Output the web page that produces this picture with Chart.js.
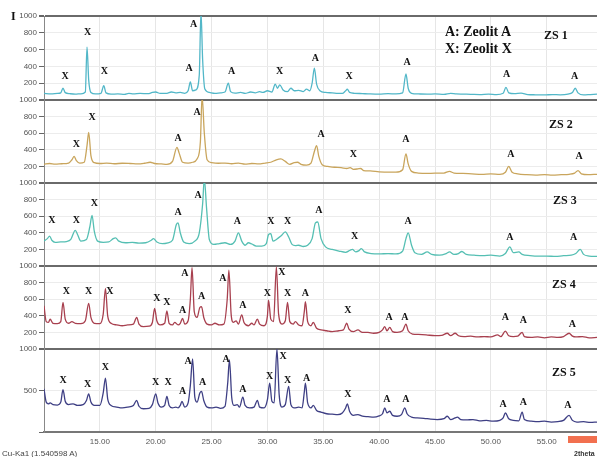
<!DOCTYPE html>
<html>
<head>
<meta charset="UTF-8">
<title>XRD ZS 1 - ZS 5</title>
<script src="https://cdn.jsdelivr.net/npm/chart.js@4.4.1/dist/chart.umd.min.js"></script>
<style>
html, body { margin:0; padding:0; background:#fff; overflow:hidden; }
#wrap { position:relative; width:597px; height:457px; }
#wrap canvas { position:absolute; left:0; top:0; }
.txt { position:absolute; white-space:nowrap; font-family:"Liberation Serif", serif; font-weight:bold; color:#111; }
.small { position:absolute; white-space:nowrap; font-family:"Liberation Sans", Arial, sans-serif; color:#444; font-size:8px; line-height:10px; }
</style>
</head>
<body>

<div id="wrap">
  <canvas id="p1" width="597" height="457"></canvas>
  <canvas id="p2" width="597" height="457"></canvas>
  <canvas id="p3" width="597" height="457"></canvas>
  <canvas id="p4" width="597" height="457"></canvas>
  <canvas id="p5" width="597" height="457"></canvas>

  <div class="txt" style="left:11px;top:9px;font-size:12px;line-height:14px;">I</div>
  <div class="txt" style="left:445px;top:23px;font-size:14px;line-height:17px;">A: Zeolit A</div>
  <div class="txt" style="left:445px;top:40px;font-size:14px;line-height:17px;">X: Zeolit X</div>
  <div class="txt" style="left:544px;top:28px;font-size:12px;line-height:14px;">ZS 1</div>
  <div class="txt" style="left:549px;top:117px;font-size:12px;line-height:14px;">ZS 2</div>
  <div class="txt" style="left:553px;top:193px;font-size:12px;line-height:14px;">ZS 3</div>
  <div class="txt" style="left:552px;top:277px;font-size:12px;line-height:14px;">ZS 4</div>
  <div class="txt" style="left:552px;top:365px;font-size:12px;line-height:14px;">ZS 5</div>
  <div class="small" style="left:2px;top:449px;">Cu-Ka1 (1.540598 A)</div>
  <div style="position:absolute;left:568px;top:436px;width:29px;height:7px;background:#f2704f;"></div>
  <div class="small" style="left:574px;top:449px;font-weight:bold;font-size:7px;color:#333;">2theta</div>
</div>

<script>
// panel geometry (plot rectangles, px)
var panelTops    = [16, 100, 183, 266, 349];
var panelBottoms = [100, 183, 266, 349, 432];

// x axis (2theta)
var thetaMin = 10, thetaMax = 59.5, thetaStep = 5;

// ZS 1 pattern [2theta, intensity]
var zs1 = [[10,80],[10.6,72],[11.2,78],[11.5,85],[11.7,140],[11.9,88],[12.3,75],[12.8,70],[13.3,74],[13.7,95],[13.85,630],[14.0,240],[14.2,90],[14.6,72],[15.1,80],[15.35,170],[15.55,85],[16,70],[16.6,72],[17.2,68],[17.6,80],[18.0,72],[18.6,78],[19.3,75],[19.7,90],[20.0,95],[20.4,78],[21,80],[21.4,95],[21.8,85],[22.2,90],[22.6,80],[22.9,110],[23.1,215],[23.3,110],[23.6,120],[23.9,300],[24.05,1050],[24.2,480],[24.4,130],[24.8,90],[25.3,80],[25.8,85],[26.2,95],[26.5,200],[26.7,100],[27.1,82],[27.6,90],[28.0,78],[28.5,95],[28.9,85],[29.3,100],[29.6,90],[30.0,110],[30.4,95],[30.7,190],[30.9,140],[31.1,180],[31.4,120],[31.8,100],[32.1,140],[32.4,110],[32.8,115],[33.2,100],[33.5,130],[33.8,110],[34.0,200],[34.2,380],[34.4,190],[34.7,110],[35.2,90],[35.8,85],[36.3,80],[36.7,78],[37.0,110],[37.15,130],[37.35,90],[37.8,80],[38.5,76],[39.2,72],[40,70],[40.8,75],[41.5,72],[42.1,85],[42.4,310],[42.6,140],[42.9,80],[43.5,72],[44.3,70],[45.0,72],[45.8,68],[46.4,80],[46.9,72],[47.5,70],[48.2,68],[49,65],[49.8,70],[50.5,65],[51.1,80],[51.35,150],[51.6,85],[52.1,75],[52.7,82],[53.3,65],[54,62],[54.8,60],[55.5,65],[56.2,62],[56.9,70],[57.3,90],[57.55,140],[57.8,85],[58.3,60],[58.9,65],[59.5,70]];

// ZS 2
var zs2 = [[10,225],[10.5,235],[11,228],[11.6,232],[12.2,240],[12.5,280],[12.7,320],[12.9,270],[13.2,240],[13.6,250],[13.85,450],[14.0,610],[14.2,330],[14.5,245],[15,235],[15.6,240],[16.3,232],[17,238],[17.7,235],[18.4,230],[19.0,238],[19.5,250],[19.9,235],[20.5,230],[21.0,225],[21.5,260],[21.9,430],[22.1,360],[22.4,250],[22.9,240],[23.3,250],[23.7,290],[24.0,500],[24.15,1050],[24.35,600],[24.6,280],[25.0,245],[25.6,238],[26.2,240],[26.8,232],[27.4,240],[28,228],[28.6,235],[29.2,230],[29.8,240],[30.3,250],[30.8,280],[31.2,290],[31.6,260],[32.0,225],[32.4,245],[32.7,250],[33.0,225],[33.5,215],[33.9,240],[34.2,380],[34.4,450],[34.6,320],[34.9,220],[35.4,200],[36,190],[36.6,185],[37.1,175],[37.4,185],[37.7,165],[38.1,170],[38.35,175],[38.6,150],[39.2,145],[40,135],[40.8,130],[41.5,130],[42.1,160],[42.4,350],[42.6,230],[42.9,140],[43.5,120],[44.2,115],[45,118],[45.8,120],[46.3,140],[46.7,120],[47.5,115],[48.3,110],[49.2,105],[50,110],[50.8,105],[51.3,130],[51.6,200],[51.9,130],[52.4,110],[53.2,100],[54,95],[54.8,100],[55.5,95],[56.3,100],[57.0,105],[57.5,120],[57.8,150],[58.1,110],[58.7,100],[59.5,105]];

// ZS 3
var zs3 = [[10,300],[10.3,330],[10.5,360],[10.7,310],[11.0,285],[11.5,290],[12.0,295],[12.4,320],[12.8,430],[13.0,380],[13.3,300],[13.8,320],[14.1,470],[14.3,610],[14.5,420],[14.8,300],[15.3,285],[15.8,290],[16.2,330],[16.4,340],[16.7,300],[17.3,280],[17.9,285],[18.5,275],[19.1,280],[19.6,310],[19.8,330],[20.1,290],[20.6,270],[21.1,280],[21.5,310],[21.85,500],[22.0,520],[22.2,400],[22.5,290],[23.0,270],[23.5,300],[23.9,400],[24.2,750],[24.35,1050],[24.55,700],[24.8,320],[25.2,260],[25.7,270],[26.2,280],[26.7,260],[27.1,300],[27.4,400],[27.7,300],[28.0,250],[28.3,280],[28.6,265],[29.0,240],[29.5,240],[29.9,270],[30.1,380],[30.3,390],[30.5,300],[30.8,320],[31.2,360],[31.6,410],[31.9,350],[32.2,260],[32.5,245],[32.8,250],[33.2,235],[33.6,250],[34.0,330],[34.3,520],[34.5,530],[34.8,330],[35.2,230],[35.8,200],[36.4,180],[37.0,165],[37.4,190],[37.6,200],[37.9,170],[38.2,185],[38.4,210],[38.7,170],[39.3,150],[40,145],[40.8,150],[41.5,145],[42.1,180],[42.4,330],[42.6,400],[42.9,250],[43.2,160],[43.8,140],[44.3,170],[44.7,140],[45.4,130],[46.0,150],[46.3,170],[46.7,140],[47.1,150],[47.4,175],[47.8,140],[48.5,130],[49.3,125],[50,130],[50.8,120],[51.3,150],[51.7,230],[52.0,160],[52.5,170],[52.8,140],[53.5,125],[54.3,118],[55,120],[55.8,115],[56.5,125],[57.2,130],[57.6,150],[58.0,200],[58.3,140],[58.8,120],[59.5,115]];

// ZS 4
var zs4 = [[10,520],[10.2,330],[10.4,320],[10.55,360],[10.8,310],[11.2,305],[11.5,330],[11.7,560],[11.9,360],[12.2,310],[12.5,330],[12.8,310],[13.3,305],[13.7,340],[14.0,550],[14.2,380],[14.5,310],[15.0,305],[15.3,420],[15.5,730],[15.7,400],[16.0,310],[16.5,290],[17.0,280],[17.5,290],[18.0,300],[18.3,380],[18.5,300],[18.9,270],[19.4,275],[19.7,320],[19.9,490],[20.1,340],[20.4,290],[20.8,310],[21.0,460],[21.2,310],[21.5,290],[21.7,320],[22.0,290],[22.2,310],[22.4,370],[22.6,300],[22.9,340],[23.1,600],[23.25,980],[23.45,450],[23.7,380],[23.95,500],[24.1,510],[24.3,380],[24.6,300],[25.0,290],[25.3,310],[25.7,290],[26.1,300],[26.4,600],[26.55,950],[26.75,420],[26.95,320],[27.2,340],[27.4,300],[27.7,410],[27.9,320],[28.3,280],[28.6,310],[28.8,290],[29.1,360],[29.3,300],[29.7,280],[30.0,400],[30.1,590],[30.3,360],[30.55,330],[30.8,990],[31.0,420],[31.3,300],[31.6,340],[31.8,560],[32.0,330],[32.3,300],[32.5,330],[32.8,290],[33.1,280],[33.3,450],[33.4,570],[33.6,330],[33.9,280],[34.1,320],[34.4,250],[34.8,230],[35.3,220],[35.8,210],[36.4,220],[36.8,230],[37.1,310],[37.3,240],[37.7,210],[38.1,230],[38.5,200],[39.0,200],[39.5,190],[40.0,200],[40.3,230],[40.5,270],[40.7,220],[40.95,260],[41.2,210],[41.6,200],[42.1,220],[42.4,300],[42.6,220],[43.0,180],[43.5,175],[44.2,170],[45,160],[45.6,165],[46.1,190],[46.4,160],[46.8,190],[47.1,160],[47.6,150],[48.2,155],[48.8,145],[49.4,150],[50.0,145],[50.6,170],[50.9,150],[51.3,215],[51.6,160],[52.0,150],[52.4,155],[52.8,200],[53.0,150],[53.6,140],[54.2,145],[54.8,135],[55.4,145],[56.0,140],[56.5,150],[57.0,190],[57.3,155],[57.6,145],[58.2,150],[58.8,135],[59.5,140]];

// ZS 5
var zs5 = [[10,520],[10.2,360],[10.4,340],[10.55,350],[10.8,330],[11.2,325],[11.5,360],[11.7,510],[11.9,370],[12.2,330],[12.6,340],[13.0,320],[13.5,330],[13.8,380],[14.0,460],[14.2,360],[14.5,320],[15.0,320],[15.3,470],[15.5,650],[15.7,400],[16.0,320],[16.5,300],[17.0,290],[17.5,300],[18.0,320],[18.3,380],[18.5,310],[18.9,280],[19.4,285],[19.7,330],[20.0,460],[20.2,350],[20.5,300],[20.8,320],[21.0,430],[21.2,320],[21.5,290],[21.8,300],[22.0,290],[22.2,320],[22.35,370],[22.6,300],[22.9,350],[23.1,560],[23.3,880],[23.5,420],[23.7,360],[23.95,470],[24.1,490],[24.3,380],[24.6,300],[25.0,290],[25.4,300],[25.8,285],[26.2,310],[26.45,600],[26.6,870],[26.8,420],[27.0,320],[27.3,330],[27.5,300],[27.8,420],[28.0,320],[28.4,290],[28.8,300],[29.1,380],[29.3,300],[29.7,290],[30.0,390],[30.2,590],[30.4,370],[30.6,350],[30.85,1000],[31.05,450],[31.3,300],[31.6,330],[31.9,550],[32.1,330],[32.4,290],[32.8,300],[33.1,290],[33.3,480],[33.4,590],[33.6,350],[33.9,290],[34.1,320],[34.4,260],[34.8,240],[35.3,220],[35.8,215],[36.3,210],[36.7,230],[37.0,290],[37.15,340],[37.35,250],[37.7,200],[38.1,210],[38.5,190],[39.0,185],[39.5,180],[40.0,195],[40.3,220],[40.5,290],[40.7,230],[40.95,250],[41.2,200],[41.6,190],[42.0,210],[42.3,290],[42.5,220],[42.9,180],[43.4,170],[44.0,165],[44.6,155],[45.2,150],[45.8,160],[46.1,190],[46.4,150],[46.8,170],[47.0,180],[47.3,150],[47.8,145],[48.4,150],[49.0,135],[49.6,140],[50.2,130],[50.8,140],[51.1,170],[51.3,230],[51.6,160],[52.0,140],[52.5,135],[52.8,240],[53.0,150],[53.6,130],[54.2,125],[54.8,130],[55.4,120],[56.0,125],[56.5,140],[57.0,200],[57.3,140],[57.7,120],[58.3,125],[58.9,115],[59.5,120]];

// peak markers [2theta, intensity, phase]
var zs1Marks = [[11.9,275,'X'],[13.9,800,'X'],[15.4,335,'X'],[23.0,370,'A'],[23.4,905,'A'],[26.8,345,'A'],[31.1,345,'X'],[34.3,490,'A'],[37.3,285,'X'],[42.5,450,'A'],[51.4,300,'A'],[57.5,275,'A']];
var zs2Marks = [[12.9,470,'X'],[14.3,795,'X'],[22.0,540,'A'],[23.7,855,'A'],[34.8,590,'A'],[37.7,340,'X'],[42.4,530,'A'],[51.8,340,'A'],[57.9,315,'A']];
var zs3Marks = [[10.7,555,'X'],[12.9,555,'X'],[14.5,750,'X'],[22.0,650,'A'],[23.8,855,'A'],[27.3,540,'A'],[30.3,540,'X'],[31.8,540,'X'],[34.6,675,'A'],[37.8,360,'X'],[42.6,540,'A'],[51.7,350,'A'],[57.4,340,'A']];
var zs4Marks = [[12.0,690,'X'],[14.0,690,'X'],[15.9,690,'X'],[20.1,615,'X'],[21.0,565,'X'],[22.4,470,'A'],[22.6,905,'A'],[24.1,630,'A'],[26.0,855,'A'],[27.8,530,'A'],[30.0,675,'X'],[31.3,925,'X'],[31.8,665,'X'],[33.4,675,'A'],[37.2,460,'X'],[40.9,385,'A'],[42.3,385,'A'],[51.3,375,'A'],[52.9,340,'A'],[57.3,300,'A']];
var zs5Marks = [[11.7,620,'X'],[13.9,570,'X'],[15.5,775,'X'],[20.0,595,'X'],[21.1,595,'X'],[22.4,490,'A'],[22.9,845,'A'],[24.2,595,'A'],[26.3,870,'A'],[27.8,510,'A'],[30.2,665,'X'],[31.4,905,'X'],[31.8,620,'X'],[33.5,640,'A'],[37.2,450,'X'],[40.7,390,'A'],[42.4,390,'A'],[51.1,335,'A'],[52.9,355,'A'],[56.9,320,'A']];

var yStepsByPanel = [200, 200, 200, 200, 500];
var colors = ['#52b7c8', '#c9a55c', '#55bfb3', '#a8404f', '#3e3f84'];

// draws the A / X letters above the peaks
var peakMarks = {
  id: 'peakMarks',
  afterDatasetsDraw: function(chart, args, opts) {
    var ctx = chart.ctx, xs = chart.scales.x, ys = chart.scales.y;
    ctx.save();
    ctx.font = 'bold 10px "Liberation Serif"';
    ctx.fillStyle = '#111';
    ctx.textAlign = 'center';
    ctx.textBaseline = 'middle';
    opts.items.forEach(function(m) {
      ctx.fillText(m[2], xs.getPixelForValue(m[0]), ys.getPixelForValue(m[1]));
    });
    ctx.restore();
  }
};

function makePanel(id, i, points, marks) {
  var last = (i === 4);
  var xh = last ? 20 : 0;
  var data = points.map(function(p) { return {x: p[0], y: p[1]}; });

  return new Chart(document.getElementById(id).getContext('2d'), {
    type: 'line',
    data: { datasets: [{ data: data, borderColor: colors[i], borderWidth: 1.3, pointRadius: 0, cubicInterpolationMode: 'monotone', fill: false }] },
    plugins: [peakMarks],
    options: {
      responsive: false,
      animation: false,
      layout: { padding: { top: panelTops[i], bottom: 457 - panelBottoms[i] - xh, left: 0, right: 0 } },
      plugins: { legend: { display: false }, tooltip: { enabled: false }, peakMarks: { items: marks } },
      scales: {
        x: {
          type: 'linear', min: thetaMin, max: thetaMax,
          ticks: {
            display: last, stepSize: thetaStep, includeBounds: false, autoSkip: false, maxRotation: 0,
            padding: 5, color: '#555', font: { size: 8, family: 'Liberation Sans' },
            callback: function(v) { return v === 10 ? '' : v.toFixed(2); }
          },
          grid: { color: '#e6e6e6', drawTicks: false },
          border: { display: last, color: '#777', width: 2 },
          afterFit: function(s) { s.height = xh; }
        },
        y: {
          min: 0, max: 1000,
          ticks: {
            stepSize: yStepsByPanel[i], padding: 2, color: '#555', font: { size: 8, family: 'Liberation Sans' },
            callback: function(v) { return v === 0 ? '' : v; }
          },
          grid: {
            color: function(c) { return c.tick && c.tick.value === 1000 ? '#6a6a6a' : '#ececec'; },
            lineWidth: function(c) { return c.tick && c.tick.value === 1000 ? 2 : 1; },
            tickLength: 5, tickColor: '#666'
          },
          border: { color: '#888', width: 1 },
          afterFit: function(s) { s.width = 44; }
        }
      }
    }
  });
}

makePanel('p1', 0, zs1, zs1Marks);
makePanel('p2', 1, zs2, zs2Marks);
makePanel('p3', 2, zs3, zs3Marks);
makePanel('p4', 3, zs4, zs4Marks);
makePanel('p5', 4, zs5, zs5Marks);
</script>

</body>
</html>
